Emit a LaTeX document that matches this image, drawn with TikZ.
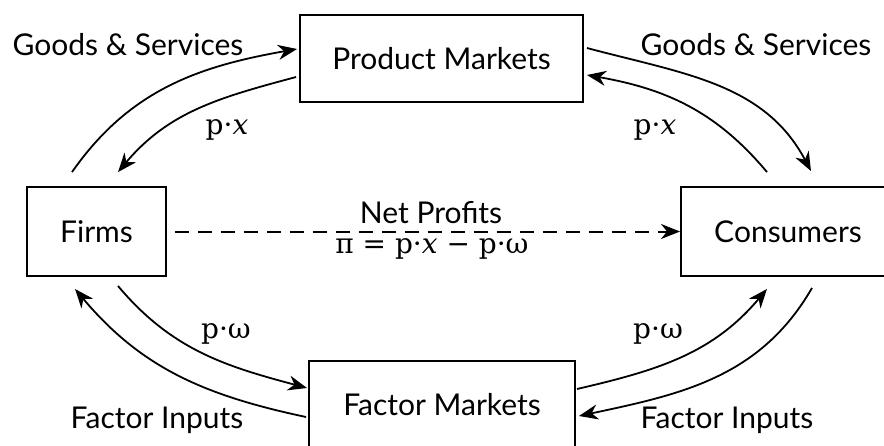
\documentclass[tikz,border=0pt]{standalone}
\usepackage[no-math]{fontspec}
\setmainfont{Lato}
\newfontfamily\mfont{DejaVu Serif}
\usetikzlibrary{arrows.meta,calc}
\newcommand{\mx}{\textit{x}}
\begin{document}
\begin{tikzpicture}[x=1pt,y=1pt,
  box/.style={draw,line width=1.9pt,inner sep=0pt,align=center},
  flow/.style={line width=1.8pt,-{Stealth[length=19pt,width=15pt,inset=6pt]}},
  lbl/.style={inner sep=0pt},
  mth/.style={inner sep=0pt,font=\mfont\fontsize{28}{32}\selectfont},
  font=\fontsize{30}{36}\selectfont]
\useasboundingbox (0,0) rectangle (884,-445);
\node[box,minimum width=283pt,minimum height=87pt] (pm) at (441.5,-58.5) {Product Markets};
\node[box,minimum width=139pt,minimum height=89pt] (firms) at (96.5,-231.5) {Firms};
\node[box,minimum width=214pt,minimum height=89pt] (cons) at (788,-231.5) {Consumers};
\node[box,minimum width=266pt,minimum height=88pt] (fm) at (442,-405) {Factor Markets};
% top left
\draw[flow] ($(firms.north)+(-24.5,14)$) to[out=55,in=190] ($(pm.west)+(-2,9.5)$);
\draw[flow] ($(pm.west)+(-3,-18.5)$) to[out=195,in=50] ($(firms.north)+(21.5,14)$);
% top right
\draw[flow] ($(pm.east)+(3,10.5)$) to[out=-15,in=118] ($(cons.north)+(23,15)$);
\draw[flow] ($(cons.north)+(-21,14)$) to[out=130,in=-10] ($(pm.east)+(3,-16.5)$);
% bottom left
\draw[flow] ($(fm.west)+(-2,-12)$) to[out=168,in=-50] ($(firms.south)+(-21.5,-12)$);
\draw[flow] ($(firms.south)+(21.5,-9)$) to[out=-50,in=165] ($(fm.west)+(-1,17)$);
% bottom right
\draw[flow] ($(fm.east)+(1,16)$) to[out=13,in=230] ($(cons.south)+(-21,-12)$);
\draw[flow] ($(cons.south)+(24,-11)$) to[out=240,in=12] ($(fm.east)+(3,-11)$);
% dashed
\draw[flow,line width=2pt,dash pattern=on 14pt off 9pt,shorten <=8pt] (firms.east) -- (cons.west);
% labels
\node[lbl] (gs1) at (128,-45) {Goods \& Services};
\node[mth] (px1) at (227,-130) {p·\mx};
\node[lbl] (gs2) at (756,-45) {Goods \& Services};
\node[mth] (px2) at (655,-130) {p·\mx};
\node[lbl] (np) at (431,-213) {Net Profits};
\node[mth] (pi) at (432,-249) {π = p·\mx{} − p·ω};
\node[mth] (pw1) at (226,-334) {p·ω};
\node[lbl] (fi1) at (157,-420) {Factor Inputs};
\node[mth] (pw2) at (658,-334) {p·ω};
\node[lbl] (fi2) at (727,-420) {Factor Inputs};
\end{tikzpicture}
\end{document}
